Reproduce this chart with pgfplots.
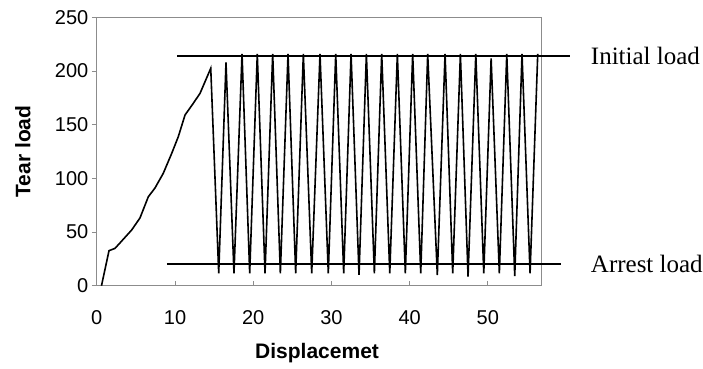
\documentclass[border=0pt]{standalone}
\usepackage{fontspec}
\setmainfont{Liberation Sans}
\newfontfamily\timesfont{Liberation Serif}
\usepackage{pgfplots}
\pgfplotsset{compat=1.18}
\definecolor{axgray}{HTML}{8C8C8C}
\begin{document}
\begin{tikzpicture}
\useasboundingbox (-96.8pt,-82.3pt) rectangle (606.2pt,285.7pt);
\begin{axis}[
  at={(0,0)}, anchor=south west,
  scale only axis, width=445pt, height=268.4pt,
  xmin=0, xmax=56.9, ymin=0, ymax=250,
  xtick={0,10,20,30,40,50}, ytick={0,50,100,150,200,250},
  clip=false,
  axis line style={axgray, line width=1.1pt},
  every tick/.style={axgray, line width=0.9pt},
  major tick length=5pt,
  xtick align=inside, ytick align=outside,
  xtick pos=bottom, ytick pos=left,
  /pgf/number format/assume math mode=true,
  tick label style={font=\fontsize{20}{24}\selectfont},
  xticklabel style={anchor=north, yshift=-21pt},
  xlabel={Displacemet},
  ylabel={Tear load},
  every axis x label/.style={at={(axis description cs:0.495,-0.25)}, anchor=center, font=\bfseries\fontsize{21}{25}\selectfont},
  every axis y label/.style={at={(axis description cs:-0.166,0.5)}, anchor=center, rotate=90, font=\bfseries\fontsize{21}{25}\selectfont},
]
\addplot[black, line width=1.6pt, line join=miter, miter limit=20] coordinates {
(0.6,0) (1.56,32.6) (2.33,34.8) (2.97,39.9) (4.46,51.9) (5.52,63.1) (6.59,82.9)
(7.44,91) (8.5,104.7) (9.58,123.3) (10.42,138.8) (11.28,159) (12.34,169.9)
(13.2,179.2) (14.57,202.5)
(15.59,11.5) (16.52,208) (17.54,11.5) (18.57,216) (19.55,11.5) (20.52,216)
(21.51,11.5) (22.49,216) (23.47,11.5) (24.45,216) (25.43,11.5) (26.41,216)
(27.48,11.5) (28.54,216) (29.6,11.5) (30.55,216) (31.57,11.5) (32.51,216)
(33.53,10) (34.47,216) (35.49,11.5) (36.43,216) (37.46,11.5) (38.43,216)
(39.45,11.5) (40.39,216) (41.42,11.5) (42.31,216) (43.54,10) (44.53,216)
(45.51,11.5) (46.49,216) (47.47,8.4) (48.46,216) (49.48,11.5) (50.42,211.8)
(51.47,11.5) (52.42,216) (53.44,9) (54.37,216) (55.4,11.5) (56.38,216)
};
\addplot[black, line width=1.4pt] coordinates {(10.26,214) (60.5,214)};
\addplot[black, line width=1.4pt] coordinates {(8.97,20.2) (59.36,20.2)};
\node[anchor=west, inner sep=0pt, font=\timesfont\fontsize{25}{30}\selectfont] at (axis cs:63.16,214) {Initial load};
\node[anchor=west, inner sep=0pt, font=\timesfont\fontsize{25}{30}\selectfont] at (axis cs:63.16,20.2) {Arrest load};
\end{axis}
\end{tikzpicture}
\end{document}
